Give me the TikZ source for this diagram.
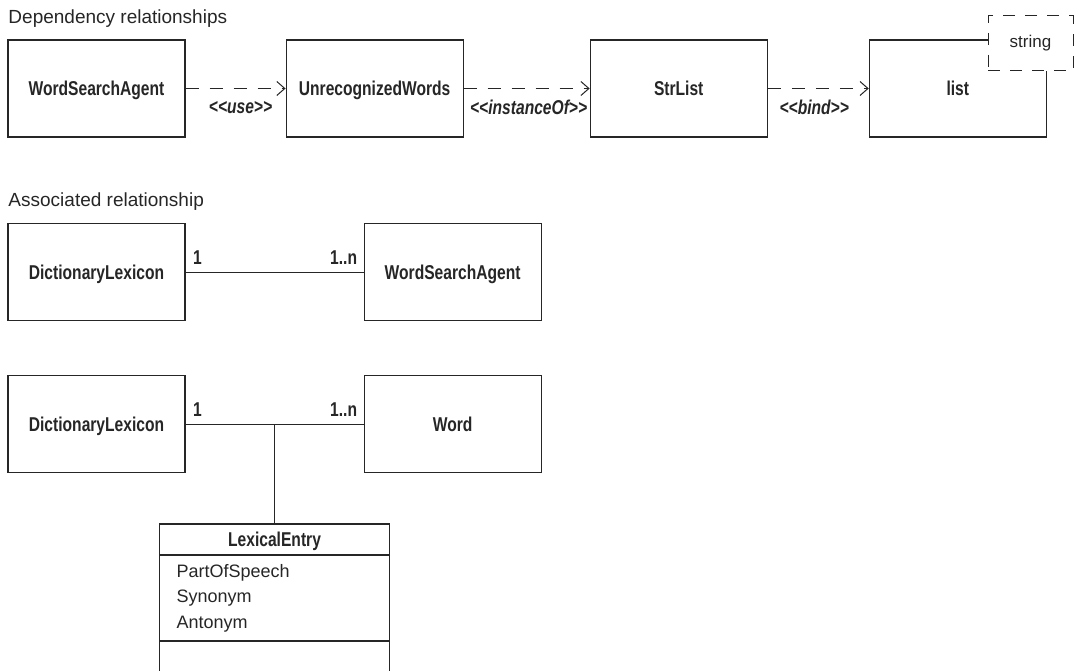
\documentclass[tikz,border=0pt]{standalone}
\usepackage{fontspec}
\setmainfont{Liberation Sans}
\newfontfamily\condsans{Liberation Sans}[FakeStretch=0.78]
\usetikzlibrary{positioning, arrows.meta}

% stereotype guillemets, kept as plain << >>
\newcommand{\stype}[1]{<\kern0pt<#1>\kern0pt>}

\begin{document}
\begin{tikzpicture}[
    x=1pt, y=1pt,
    line width=1pt,
    color=black!85,
    classbox/.style={
        rectangle,
        draw,
        line width=1.1pt,
        minimum width=177pt,
        minimum height=97pt,
        inner sep=0pt,
        text height=14.3pt,
        text depth=0pt,
        font=\condsans\bfseries\fontsize{20}{23}\selectfont
    },
    param/.style={
        rectangle,
        draw,
        fill=white,
        dash pattern=on 12pt off 10pt,
        minimum width=85pt,
        minimum height=55pt,
        font=\fontsize{17}{20}\selectfont
    },
    heading/.style={
        anchor=base west,
        inner sep=0pt,
        font=\fontsize{19}{22}\selectfont
    },
    stereo/.style={
        inner sep=0pt,
        font=\condsans\bfseries\itshape\fontsize{20}{23}\selectfont
    },
    mult/.style={
        inner sep=0pt,
        font=\condsans\bfseries\fontsize{20}{23}\selectfont
    },
    depend/.style={
        -{Straight Barb[length=8pt, width=14pt]},
        dash pattern=on 13pt off 11pt
    },
    entryhead/.style={
        rectangle,
        draw,
        line width=1.1pt,
        outer sep=0pt,
        minimum width=230pt,
        minimum height=31pt,
        inner sep=0pt,
        text height=14.3pt,
        text depth=0pt,
        font=\condsans\bfseries\fontsize{20}{23}\selectfont
    },
    entryattr/.style={
        rectangle,
        draw,
        line width=1.1pt,
        outer sep=0pt,
        text width=196pt,
        inner xsep=17pt,
        inner ysep=0pt,
        minimum height=86pt,
        align=left,
        font=\fontsize{18}{25.5}\selectfont
    }
]

    \useasboundingbox (0,0) rectangle (1078,-671);

    % --- Dependency relationships ---
    \node[heading] (dephead) at (8,-24) {Dependency relationships};

    \node[classbox] (agent) at (96.5,-88.5) {WordSearchAgent};
    \node[classbox, right=100pt of agent] (unrec) {UnrecognizedWords};
    \node[classbox, right=126pt of unrec] (strlist) {StrList};
    \node[classbox, right=101pt of strlist] (list) {list};

    % template parameter over the corner
    \node[param] (tparam) at (1030.5,-43.5) {string};

    \draw[depend] (agent) -- node[stereo, xshift=5pt, yshift=-19pt] {\stype{use}} (unrec);
    \draw[depend] (unrec) -- node[stereo, xshift=2pt, yshift=-19pt] {\stype{instanceOf}} (strlist);
    \draw[depend] (strlist) -- node[stereo, xshift=-4pt, yshift=-19pt] {\stype{bind}} (list);

    % --- Associated relationship ---
    \node[heading] (assochead) at (8,-207) {Associated relationship};

    \node[classbox] (lexicon) at (96.5,-272) {DictionaryLexicon};
    \node[classbox, right=178pt of lexicon] (agenttwo) {WordSearchAgent};

    \draw (lexicon) --
        node[mult, pos=0, anchor=south west, xshift=7pt, yshift=7pt] {1}
        node[mult, pos=1, anchor=south east, xshift=-6pt, yshift=7pt] {1..n}
        (agenttwo);

    % association class
    \node[classbox] (lexicontwo) at (96.5,-424) {DictionaryLexicon};
    \node[classbox, right=178pt of lexicontwo] (word) {Word};

    \draw (lexicontwo) --
        node[mult, pos=0, anchor=south west, xshift=7pt, yshift=7pt] {1}
        coordinate[midway] (assoc)
        node[mult, pos=1, anchor=south east, xshift=-6pt, yshift=7pt] {1..n}
        (word);

    \node[entryhead, below=100pt of assoc] (entry) {LexicalEntry};
    \node[entryattr, below=0pt of entry] (attrs) {PartOfSpeech\\Synonym\\Antonym};
    \draw (assoc) -- (entry);
    \draw[line width=1.1pt] (attrs.south west) -- ++(0,-32);
    \draw[line width=1.1pt] (attrs.south east) -- ++(0,-32);

\end{tikzpicture}
\end{document}
